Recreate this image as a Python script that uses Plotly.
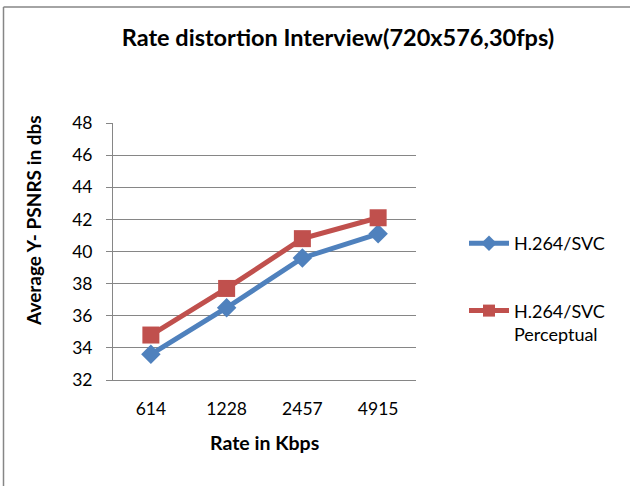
import plotly.graph_objects as go

# Bit rates (Kbps) and average Y-PSNR (dB)
rates = ["614", "1228", "2457", "4915"]
psnr_svc = [33.6, 36.5, 39.6, 41.1]
psnr_perceptual = [34.8, 37.7, 40.8, 42.1]
series_names = ["H.264/SVC", "H.264/SVC<br>Perceptual"]
y_ticks = [32, 34, 36, 38, 40, 42, 44, 46, 48]

W, H = 630, 486
L, R, T, B = 113, 416, 123, 380  # plot area in pixels
FONT = "Lato"
GRID = "#868686"


def px_x(x):
    return (x - L) / (R - L)


def px_y(y):
    return (B - y) / (B - T)


fig = go.Figure()
fig.add_trace(go.Scatter(
    x=rates, y=psnr_svc, name=series_names[0], mode="lines+markers",
    line=dict(color="#4F81BD", width=5),
    marker=dict(symbol="diamond", size=15, color="#4F81BD"),
    legendgroup="a",
))
fig.add_trace(go.Scatter(
    x=rates, y=psnr_perceptual, name=series_names[1], mode="lines+markers",
    line=dict(color="#C0504D", width=5),
    marker=dict(symbol="square", size=17, color="#C0504D"),
    legendgroup="b",
))

fig.update_layout(
    width=W, height=H, autosize=False,
    margin=dict(l=L, r=W - R, t=T, b=H - B, pad=0),
    paper_bgcolor="white", plot_bgcolor="white",
    font=dict(family=FONT, size=17.5, color="#000000"),
    title=dict(
        text="<b>Rate distortion Interview(720x576,30fps)</b>",
        x=338 / W, xref="container", xanchor="center",
        y=1 - 38 / H, yref="container", yanchor="middle",
        font=dict(family=FONT, size=23.5, color="#000000"),
    ),
    xaxis=dict(
        type="category", range=[-0.5, 3.5],
        showgrid=False, zeroline=False,
        showline=True, linecolor=GRID, linewidth=1,
        ticks="", ticklabelstandoff=13,
        tickfont=dict(size=17.5),
    ),
    yaxis=dict(
        range=[32, 48], tickvals=y_ticks,
        showgrid=True, gridcolor=GRID, gridwidth=1,
        zeroline=False,
        showline=True, linecolor=GRID, linewidth=1,
        ticks="outside", ticklen=6, tickcolor=GRID,
        ticklabelstandoff=10,
        tickfont=dict(size=17.5),
    ),
    legend=dict(
        x=px_x(464), y=px_y(225), xanchor="left", yanchor="top",
        bgcolor="rgba(0,0,0,0)", tracegroupgap=41, valign="top",
        font=dict(family=FONT, size=18),
        itemwidth=40, itemsizing="constant",
    ),
    annotations=[
        dict(text="<b>Rate in Kbps</b>", xref="paper", yref="paper",
             x=px_x(264), y=px_y(442), xanchor="center", yanchor="middle",
             showarrow=False, font=dict(family=FONT, size=19.5)),
        dict(text="<b>Average Y- PSNRS in dbs</b>", xref="paper", yref="paper",
             x=px_x(33), y=px_y(221), xanchor="center", yanchor="middle",
             textangle=-90, showarrow=False, font=dict(family=FONT, size=19)),
    ],
    shapes=[
        dict(type="line", xref="paper", yref="paper",
             x0=px_x(3.5), x1=px_x(W + 5), y0=px_y(7), y1=px_y(7),
             line=dict(color=GRID, width=1.5), layer="above"),
        dict(type="line", xref="paper", yref="paper",
             x0=px_x(3.5), x1=px_x(3.5), y0=px_y(7), y1=px_y(H + 5),
             line=dict(color=GRID, width=1.5), layer="above"),
    ],
)

fig.write_html("out.html")
